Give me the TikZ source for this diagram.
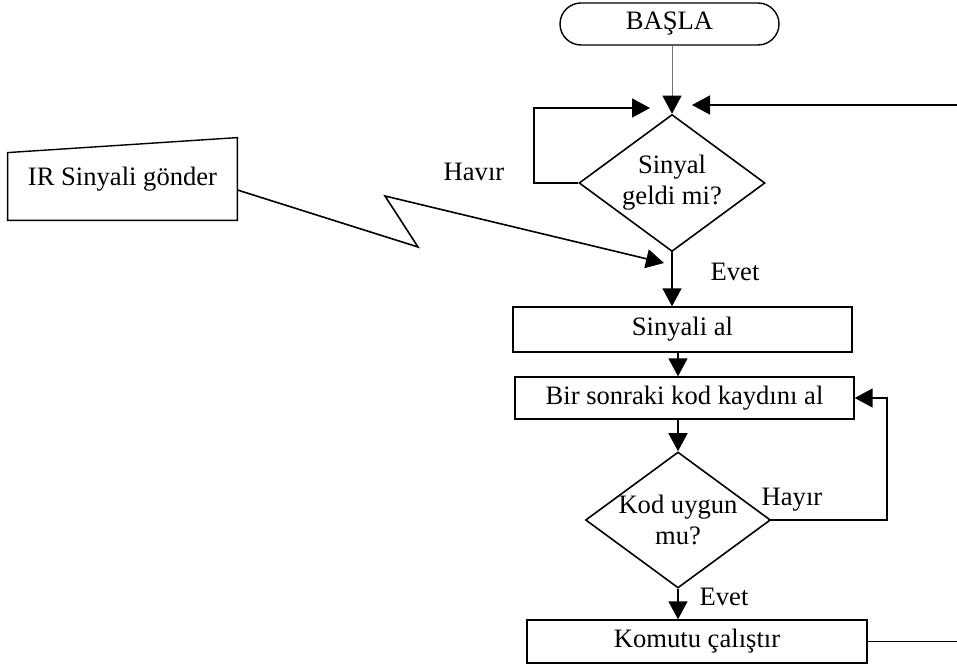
\documentclass[tikz,border=0pt]{standalone}
\usepackage{fontspec}
\setmainfont{Liberation Serif}
\usetikzlibrary{shapes, arrows.meta, positioning}

\begin{document}
\begin{tikzpicture}[x=0.5pt, y=-0.5pt,
    font=\fontsize{13.3}{15.5}\selectfont,
    box/.style={draw, rectangle, line width=0.7pt, inner sep=0pt, align=center},
    startbox/.style={draw, rounded rectangle, line width=0.7pt, minimum width=109.5pt, minimum height=21pt, inner sep=0pt},
    decision/.style={draw, diamond, line width=0.8pt, minimum width=93pt, minimum height=68.5pt, inner sep=0pt},
    arrow/.style={-{Triangle[length=9pt, width=9.5pt]}, line width=0.8pt, line join=miter},
    thinarrow/.style={-{Triangle[length=9pt, width=9.5pt, color=black]}, line width=0.5pt, draw=black!55}]

    \useasboundingbox (0,0) rectangle (957,667);
    \clip (0,0) rectangle (957,667);

    \node[startbox] (start) at (669.5,24) {BAŞLA};
    \node[decision, label={[name=d1text, align=center]center:Sinyal\\geldi mi?}] (d1) at (672,183) {};
    \node[box, minimum width=169.5pt, minimum height=22.5pt] (sinyal) at (682.5,329.5) {Sinyali al};
    \node[box, minimum width=169.5pt, minimum height=21pt] (bir) at (684.5,398) {Bir sonraki kod kaydını al};
    \node[decision, minimum width=92.5pt, minimum height=68pt, label={[name=d2text, align=center]center:Kod uygun\\mu?}] (d2) at (678,520) {};
    \node[box, minimum width=170pt, minimum height=21.5pt] (komut) at (697,641.5) {Komutu çalıştır};
    \node[minimum width=114.5pt, minimum height=41pt, inner sep=0pt] (ir) at (122.5,179) {\raisebox{-2.5pt}{IR Sinyali gönder}};
    \draw[line width=0.7pt] (ir.south west) -- ([yshift=-7.5pt]ir.north west) -- (ir.north east) -- (ir.south east) -- cycle;

    \node (no1) at (474,172) {Havır};
    \node (yes1) at (735,272) {Evet};
    \node (no2) at (792,500) {Hayır};
    \node (yes2) at (724,597) {Evet};

    \coordinate (loop1) at (534,108);
    \coordinate (loop1in) at (650,108);
    \coordinate (loop2) at (887,398);
    \coordinate (back) at (1000,105);
    \coordinate (backin) at (692,105);
    \coordinate (zig1) at (418,247);
    \coordinate (zig2) at (385,196);
    \coordinate (irin) at (664,263);

    \draw[thinarrow] (start.south -| d1.north) -- (d1.north);
    \draw[arrow] (d1.west) -| (loop1) -- (loop1in);
    \draw[arrow] (d1.south) -- (d1.south |- sinyal.north);
    \draw[arrow] (d2.north |- sinyal.south) -- (d2.north |- bir.north);
    \draw[arrow] (bir.south -| d2.north) -- (d2.north);
    \draw[arrow] (d2.east) -| (loop2) -- (bir.east);
    \draw[arrow] (d2.south) -- (d2.south |- komut.north);
    \draw[arrow] (komut.east) -| (back) -- (backin);
    \draw[arrow] ([yshift=-5.5pt]ir.east) -- (zig1) -- (zig2) -- (irin);
\end{tikzpicture}
\end{document}
